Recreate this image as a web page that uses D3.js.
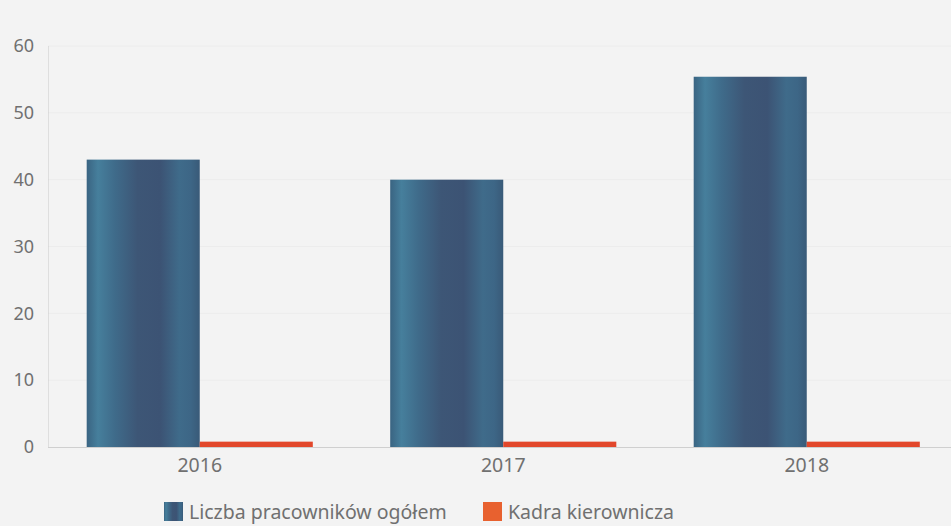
<!DOCTYPE html>
<html>
<head>
<meta charset="utf-8">
<script src="https://cdn.jsdelivr.net/npm/d3@7"></script>
<style>
  body { margin: 0; background: #f3f3f3; }
  svg { display: block; font-family: "Noto Sans", "Open Sans", sans-serif; }
</style>
</head>
<body>
<div id="chart"></div>
<script>
var years = ["2016", "2017", "2018"];
var seriesNames = ["Liczba pracowników ogółem", "Kadra kierownicza"];
var totalStaff = [43, 40, 55.4];
var managers = [0.8, 0.8, 0.8];
var yTicks = [0, 10, 20, 30, 40, 50, 60];

var width = 951, height = 526;
var fontFam = "'Noto Sans', 'Open Sans', sans-serif";

var svg = d3.select("#chart").append("svg")
    .attr("width", width)
    .attr("height", height);

svg.append("rect").attr("width", width).attr("height", height).attr("fill", "#f3f3f3");

// gradient for the blue bars (scanned, striped look)
var defs = svg.append("defs");
var grad = defs.append("linearGradient").attr("id", "blueGrad")
    .attr("x1", "0%").attr("x2", "100%").attr("y1", "0%").attr("y2", "0%");
[["0%", "#3a6482"], ["10%", "#467f9c"], ["25%", "#3f6b8a"], ["45%", "#3d5676"],
 ["65%", "#3c5374"], ["82%", "#3f6b8a"], ["92%", "#3d6686"], ["100%", "#395a78"]]
  .forEach(function(s) { grad.append("stop").attr("offset", s[0]).attr("stop-color", s[1]); });

// scales
var x0 = d3.scaleBand().domain(years).range([48, 958.5])
    .paddingInner(0.255).paddingOuter(0.1275);
var x1 = d3.scaleBand().domain([0, 1]).range([0, x0.bandwidth()]);
var y = d3.scaleLinear().domain([0, 60]).range([447, 46]);

// faint gridlines
svg.append("g").selectAll("line")
    .data(yTicks.slice(1))
    .enter().append("line")
    .attr("x1", 48).attr("x2", width)
    .attr("y1", function(d) { return y(d); })
    .attr("y2", function(d) { return y(d); })
    .attr("stroke", "#ececec")
    .attr("stroke-width", 1);

// y axis
var yAxis = d3.axisLeft(y).tickValues(yTicks).tickSize(0).tickPadding(14);
var gy = svg.append("g").attr("transform", "translate(48,0)").call(yAxis)
    .attr("font-family", fontFam);
gy.select(".domain").attr("stroke", "#c8c8c8").attr("stroke-dasharray", "1,1");
gy.selectAll("text").style("font-size", "18px").attr("fill", "#707070").attr("x", -14);

// x axis
var xAxis = d3.axisBottom(x0).tickSize(0).tickPadding(11);
var gx = svg.append("g").attr("transform", "translate(0,447)").call(xAxis)
    .attr("font-family", fontFam);
gx.select(".domain").remove();
gx.selectAll("text").style("font-size", "19.5px").attr("fill", "#707070");
svg.append("line").attr("x1", 48).attr("x2", width).attr("y1", 447.5).attr("y2", 447.5)
    .attr("stroke", "#cfcfcf");

// bars
var groups = svg.append("g").selectAll("g")
    .data(years)
    .enter().append("g")
    .attr("transform", function(d) { return "translate(" + x0(d) + ",0)"; });

groups.append("rect")
    .attr("x", x1(0))
    .attr("width", x1.bandwidth())
    .attr("y", function(d, i) { return y(totalStaff[i]); })
    .attr("height", function(d, i) { return y(0) - y(totalStaff[i]); })
    .attr("fill", "url(#blueGrad)");

groups.append("rect")
    .attr("x", x1(1))
    .attr("width", x1.bandwidth())
    .attr("y", function(d, i) { return y(managers[i]); })
    .attr("height", function(d, i) { return y(0) - y(managers[i]); })
    .attr("fill", "#e2472b");

// legend
var legendX = [164, 483];
var legendColors = ["url(#blueGrad)", "#e8612f"];
var legend = svg.append("g").selectAll("g")
    .data(seriesNames)
    .enter().append("g")
    .attr("transform", function(d, i) { return "translate(" + legendX[i] + ",502)"; });
legend.append("rect").attr("width", 19).attr("height", 19)
    .attr("fill", function(d, i) { return legendColors[i]; });
legend.append("text")
    .attr("x", 25).attr("y", 17)
    .style("font-size", "19.5px")
    .attr("fill", "#707070")
    .text(function(d) { return d; });
</script>
</body>
</html>
